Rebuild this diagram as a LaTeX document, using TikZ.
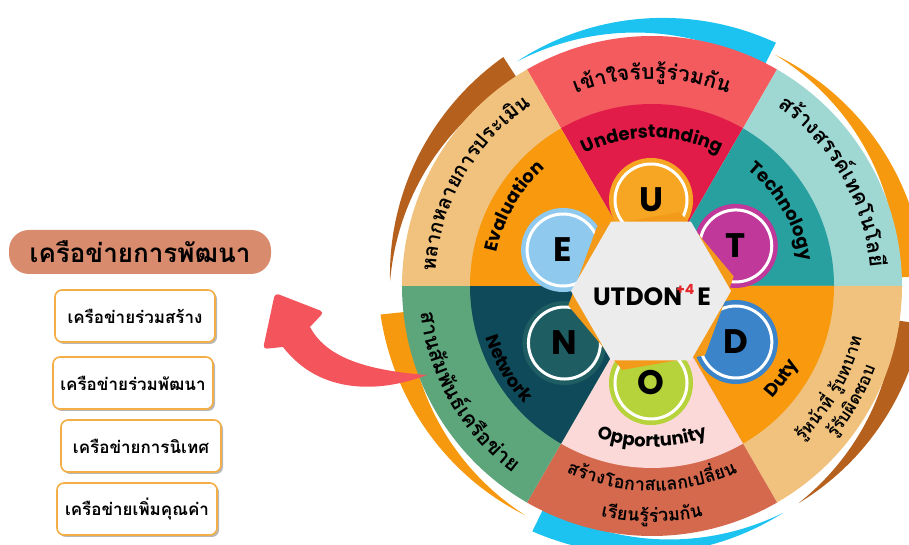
\documentclass[tikz,border=0pt]{standalone}
\usepackage{fontspec}
\newfontfamily\thaifont[Script=Thai]{Loma}
\newfontfamily\latfont{Poppins}
\usetikzlibrary{decorations.text,shadows}

\definecolor{uout}{HTML}{F45B5F}
\definecolor{uin}{HTML}{E21C48}
\definecolor{tout}{HTML}{9FD7D3}
\definecolor{tin}{HTML}{27A09F}
\definecolor{dout}{HTML}{F0C27D}
\definecolor{din}{HTML}{F8990E}
\definecolor{oout}{HTML}{D4694E}
\definecolor{oin}{HTML}{FCD9D9}
\definecolor{nout}{HTML}{5DA67C}
\definecolor{nin}{HTML}{0F4A5B}
\definecolor{eout}{HTML}{F0C27D}
\definecolor{ein}{HTML}{F8990E}
\definecolor{ringcyan}{HTML}{1CC3F1}
\definecolor{ringorange}{HTML}{F7990F}
\definecolor{ringbrown}{HTML}{B6601E}
\definecolor{arrowred}{HTML}{F4545B}
\definecolor{headfill}{HTML}{D98B6D}
\definecolor{boxline}{HTML}{F3AE45}
\definecolor{hexgray}{HTML}{ECECEC}
\definecolor{hexorange}{HTML}{F39A1B}
\definecolor{plusred}{HTML}{E5262B}
\definecolor{cU}{HTML}{F6A623}
\definecolor{cT}{HTML}{C0399A}
\definecolor{cD}{HTML}{3B84CA}
\definecolor{cO}{HTML}{B7D33B}
\definecolor{cN}{HTML}{1E5E62}
\definecolor{cE}{HTML}{8FC9EE}

\begin{document}
\begin{tikzpicture}[x=1pt, y=1pt,
    ringtext/.style={decorate, decoration={text along path, text align=center}},
    letterdisc/.style={circle, fill=#1, draw=white, line width=3pt, minimum size=72pt, inner sep=0pt,
        preaction={draw=#1, line width=12pt}, font=\latfont\bfseries\fontsize{34}{34}\selectfont},
    headpill/.style={fill=headfill, rounded corners=20pt, minimum width=262pt, minimum height=44pt,
        font=\thaifont\bfseries\fontsize{26}{26}\selectfont},
    netbox/.style={draw=boxline, line width=1.6pt, fill=white, rounded corners=7pt, minimum width=160pt,
        minimum height=52pt, inner sep=0pt, font=\thaifont\bfseries\fontsize{17}{17}\selectfont,
        drop shadow={shadow xshift=2pt, shadow yshift=-2pt, fill=gray!70, opacity=.8}}]

\useasboundingbox (0,0) rectangle (909,545);

% wheel
\begin{scope}[shift={(652,259)}]
    \foreach \a/\b/\col in {63/121/ringcyan, 2/62/ringorange, 123/179/ringbrown,
                            186/241/ringorange, 244/300/ringcyan, -8/-56/ringbrown}
        \fill [\col] plot [domain=\a:\b, samples=40] (\x:{273-11*(\x-\a)/(\b-\a)})
            -- plot [domain=\b:\a, samples=40] (\x:{262-17*(\x-\b)/(\a-\b)}) -- cycle;
    \foreach \a/\b/\outer/\inner in {60/120/uout/uin, 0/60/tout/tin, -60/0/dout/din,
                                     -120/-60/oout/oin, 180/240/nout/nin, 120/180/eout/ein} {
        \fill [\outer] (0,0) -- (\a:250) arc (\a:\b:250) -- cycle;
        \fill [\inner] (0,0) -- (\a:182) arc (\a:\b:182) -- cycle;
    }

    \path [ringtext, decoration={text={|\thaifont\bfseries\fontsize{21}{21}\selectfont|{เ}{ข้}{า}{ใ}{จ}{รั}{บ}{รู้}{ร่}{ว}{ม}{กั}{น}}}]
        (115:207) arc (115:65:207);
    \path [ringtext, decoration={text={|\thaifont\bfseries\fontsize{21}{21}\selectfont|{ส}{ร้}{า}{ง}{ส}{ร}{ร}{ค์}{เ}{ท}{ค}{โ}{น}{โ}{ล}{ยี}}}]
        (58:219) arc (58:2:219);
    \path [ringtext, decoration={text={|\thaifont\bfseries\fontsize{20}{20}\selectfont|{ห}{ล}{า}{ก}{ห}{ล}{า}{ย}{ก}{า}{ร}{ป}{ร}{ะ}{เ}{มิ}{น}}}]
        (178:217) arc (178:122:217);
    \path [ringtext, decoration={text={|\thaifont\bfseries\fontsize{21}{21}\selectfont|{ส}{า}{น}{สั}{ม}{พั}{น}{ธ์}{เ}{ค}{รื}{อ}{ข่}{า}{ย}}}]
        (182:233) arc (182:238:233);
    \path [ringtext, decoration={text={|\thaifont\bfseries\fontsize{17}{17}\selectfont|{รู้}{ห}{น้}{า}{ที่} {รู้}{บ}{ท}{บ}{า}{ท}}}]
        (302:216) arc (302:358:216);
    \path [ringtext, decoration={text={|\thaifont\bfseries\fontsize{17}{17}\selectfont|{รู้}{รั}{บ}{ผิ}{ด}{ช}{อ}{บ}}}]
        (302:238) arc (302:358:238);
    \path [ringtext, decoration={text={|\thaifont\bfseries\fontsize{18}{18}\selectfont|{ส}{ร้}{า}{ง}{โ}{อ}{ก}{า}{ส}{แ}{ล}{ก}{เ}{ป}{ลี่}{ย}{น}}}]
        (242:205) arc (242:298:205);
    \path [ringtext, decoration={text={|\thaifont\bfseries\fontsize{18}{18}\selectfont|{เ}{รี}{ย}{น}{รู้}{ร่}{ว}{ม}{กั}{น}}}]
        (242:236) arc (242:298:236);

    \path [ringtext, decoration={text={|\latfont\bfseries\fontsize{18}{18}\selectfont|Understanding}}]
        (118:148) arc (118:62:148);
    \path [ringtext, decoration={text={|\latfont\bfseries\fontsize{18}{18}\selectfont|Technology}}]
        (58:151) arc (58:2:151);
    \path [ringtext, decoration={text={|\latfont\bfseries\fontsize{18}{18}\selectfont|Evaluation}}]
        (178:159) arc (178:122:159);
    \path [ringtext, decoration={text={|\latfont\bfseries\fontsize{18}{18}\selectfont|Network}}]
        (182:174) arc (182:238:174);
    \path [ringtext, decoration={text={|\latfont\bfseries\fontsize{18}{18}\selectfont|Opportunity}}]
        (242:161) arc (242:298:161);
    \path [ringtext, decoration={text={|\latfont\bfseries\fontsize{18}{18}\selectfont|Duty}}]
        (300:165) arc (300:349:165);
\end{scope}

% letters round the hub
\begin{scope}[shift={(651,254)}]
    \node [letterdisc=cU] (discU) at (90:91) {U};
    \node [letterdisc=cT] (discT) at (28:96) {T};
    \node [letterdisc=cD] (discD) at (-31:99) {D};
    \node [letterdisc=cO] (discO) at (-90:92) {O};
    \node [letterdisc=cN] (discN) at (211:101) {N};
    \node [letterdisc=cE] (discE) at (155:97) {E};
    \fill [hexorange] (10:84) -- (70:84) -- (130:84) -- (190:84) -- (250:84) -- (310:84) -- cycle;
    \fill [hexgray] (0:80) -- (60:80) -- (120:80) -- (180:80) -- (240:80) -- (300:80) -- cycle;
\end{scope}
\node [font=\latfont\bfseries\fontsize{25}{25}\selectfont] (hubtext) at (652,248)
    {UTDON\hspace{-6pt}\raisebox{11pt}[0pt][0pt]{\textcolor{plusred}{\fontsize{14}{14}\selectfont +4}}\hspace{3pt}E};

% arrow to the network list
\coordinate (arrowtail) at (427,170);
\coordinate (arrowtip) at (275,252);
\fill [arrowred] (arrowtail) .. controls (380,152) and (320,150) .. (283,198)
    [rounded corners=4pt] -- (263,196) -- (arrowtip) -- (324,233) [sharp corners] -- (310,218)
    .. controls (325,190) and (360,175) .. (arrowtail) -- cycle;

% network list
\node [headpill] (nethead) at (140,293) {เครือข่ายการพัฒนา};
\node [netbox] (net1) at (135,229) {เครือข่ายร่วมสร้าง};
\node [netbox] (net2) at (133,162) {เครือข่ายร่วมพัฒนา};
\node [netbox] (net3) at (141,99) {เครือข่ายการนิเทศ};
\node [netbox] (net4) at (137,36) {เครือข่ายเพิ่มคุณค่า};

\end{tikzpicture}
\end{document}
